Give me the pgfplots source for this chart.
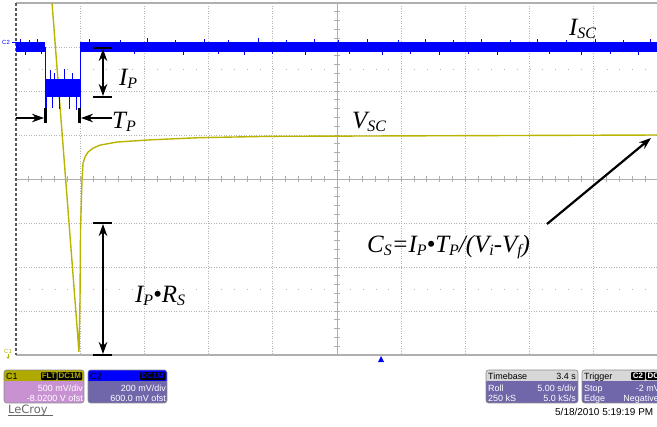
\documentclass[border=0pt]{standalone}
\usepackage{pgfplots}
\pgfplotsset{compat=1.18}
\usetikzlibrary{arrows.meta}
\usepackage{fontspec}
\setmainfont{Liberation Serif}
\newfontfamily\arial{Liberation Sans}
\newfontfamily\dejavu{DejaVu Sans}
\definecolor{trY}{RGB}{185,180,0}
\definecolor{trB}{RGB}{0,0,255}
\definecolor{gridc}{RGB}{180,180,180}
\definecolor{cenc}{RGB}{175,175,175}
\definecolor{cOneH}{RGB}{176,170,0}
\definecolor{cOneB}{RGB}{200,146,210}
\definecolor{cTwoB}{RGB}{112,102,170}
\definecolor{tbH}{RGB}{215,215,215}
\newcommand{\annfont}{\fontsize{25}{25}\selectfont\itshape}
\newcommand{\subx}[1]{\raisebox{-3bp}{\fontsize{16}{16}\selectfont\itshape #1}}
\newcommand{\pf}{\arial\fontsize{9}{9}\selectfont}

% blue trace (I_SC), levels in divisions
\pgfplotstableread{
x y
0 2.89
0.456 2.89
0.456 3.11
0 3.11
}\bandA
\pgfplotstableread{
x y
0.456 1.86
0.997 1.86
0.997 2.27
0.456 2.27
}\bandB
\pgfplotstableread{
x y
0.997 2.89
10 2.89
10 3.11
0.997 3.11
}\bandC
% yellow trace (V_SC)
\pgfplotstableread{
x y
0 6.1
0.45 6.1
0.981 -3.93
0.997 -2.75
1.005 -1.16
1.028 -0.02
1.044 0.36
1.075 0.50
1.121 0.61
1.199 0.70
1.308 0.77
1.573 0.84
2.087 0.89
2.866 0.94
3.956 0.97
5.98 0.98
9.98 1.0
10 1.0
}\vsc

\begin{document}
\begin{tikzpicture}
\useasboundingbox (0,0) rectangle (657bp,-427bp);
% ---- graticule (pixel coordinates) ----
\begin{scope}[x=1bp,y=-1bp]
\foreach \i in {1,2,3,4,6,7,8,9,10}
  \draw[gridc, line width=0.8bp, dash pattern=on 1bp off 1.5bp] ({16+\i*64.2},3) -- ({16+\i*64.2},355);
\foreach \j in {1,2,3,5,6,7}
  \draw[gridc, line width=0.8bp, dash pattern=on 1bp off 1.5bp] (16,{3+\j*44}) -- (657,{3+\j*44});
\foreach \yy in {69,289}
  \draw[gridc, line width=1bp, dash pattern=on 1bp off 11.84bp] (16,\yy) -- (657,\yy);
\draw[cenc, line width=1bp] (337,3) -- (337,355);
\draw[cenc, line width=1bp] (16,179) -- (657,179);
\foreach \k in {1,...,39} \draw[cenc, line width=0.8bp] (334,{3+\k*8.8}) -- (340,{3+\k*8.8});
\foreach \k in {1,...,49} \draw[cenc, line width=0.8bp] ({16+\k*12.84},176) -- ({16+\k*12.84},182);
\draw[cenc, line width=1.5bp] (16,3) -- (657,3);
\draw[cenc, line width=1.2bp] (16,355) -- (657,355);
\draw[black!65, line width=1.2bp, dash pattern=on 3bp off 2bp] (16,3) -- (16,355);
\end{scope}

\begin{axis}[at={(16bp,-355bp)}, anchor=south west, scale only axis,
  width=642bp, height=352bp, xmin=0, xmax=10, ymin=-4, ymax=4,
  hide axis, clip=true, unbounded coords=jump]
\addplot[trY, line width=1.4bp] table {\vsc};
\addplot[fill=trB, draw=none] table {\bandA} -- cycle;
\addplot[fill=trB, draw=none] table {\bandB} -- cycle;
\addplot[fill=trB, draw=none] table {\bandC} -- cycle;
\addplot[trB, line width=1bp] coordinates {(0.456,3.0) (0.456,1.41)};
\addplot[trB, line width=1bp] coordinates {(0.997,1.41) (0.997,3.0)};
\addplot[trB, line width=0.7bp] coordinates {
(0.07,3.0)(0.07,3.18)(0.07,nan)
(0.21,3.0)(0.21,3.17)(0.21,nan)
(0.33,3.0)(0.33,3.19)(0.33,nan)
(1.15,3.0)(1.15,3.18)(1.15,nan)
(1.62,3.0)(1.62,3.17)(1.62,nan)
(2.05,3.0)(2.05,3.2)(2.05,nan)
(2.48,3.0)(2.48,3.16)(2.48,nan)
(2.93,3.0)(2.93,3.19)(2.93,nan)
(3.3,3.0)(3.3,3.17)(3.3,nan)
(3.77,3.0)(3.77,3.2)(3.77,nan)
(4.21,3.0)(4.21,3.16)(4.21,nan)
(4.64,3.0)(4.64,3.18)(4.64,nan)
(5.02,3.0)(5.02,3.17)(5.02,nan)
(5.48,3.0)(5.48,3.19)(5.48,nan)
(5.95,3.0)(5.95,3.16)(5.95,nan)
(6.38,3.0)(6.38,3.18)(6.38,nan)
(6.82,3.0)(6.82,3.17)(6.82,nan)
(7.25,3.0)(7.25,3.19)(7.25,nan)
(7.7,3.0)(7.7,3.16)(7.7,nan)
(8.12,3.0)(8.12,3.18)(8.12,nan)
(8.58,3.0)(8.58,3.17)(8.58,nan)
(9.03,3.0)(9.03,3.19)(9.03,nan)
(9.46,3.0)(9.46,3.16)(9.46,nan)
(9.88,3.0)(9.88,3.18)(9.88,nan)
(0.15,3.0)(0.15,2.82)(0.15,nan)
(0.4,3.0)(0.4,2.83)(0.4,nan)
(1.35,3.0)(1.35,2.82)(1.35,nan)
(1.85,3.0)(1.85,2.84)(1.85,nan)
(2.6,3.0)(2.6,2.82)(2.6,nan)
(3.15,3.0)(3.15,2.83)(3.15,nan)
(3.55,3.0)(3.55,2.82)(3.55,nan)
(4.0,3.0)(4.0,2.84)(4.0,nan)
(4.5,3.0)(4.5,2.82)(4.5,nan)
(5.2,3.0)(5.2,2.83)(5.2,nan)
(5.7,3.0)(5.7,2.82)(5.7,nan)
(6.15,3.0)(6.15,2.84)(6.15,nan)
(6.6,3.0)(6.6,2.82)(6.6,nan)
(7.05,3.0)(7.05,2.83)(7.05,nan)
(7.5,3.0)(7.5,2.82)(7.5,nan)
(8.3,3.0)(8.3,2.84)(8.3,nan)
(8.8,3.0)(8.8,2.82)(8.8,nan)
(9.25,3.0)(9.25,2.83)(9.25,nan)
(9.7,3.0)(9.7,2.82)(9.7,nan)
(0.53,2.1)(0.53,2.48)(0.53,nan)
(0.6,2.1)(0.6,2.42)(0.6,nan)
(0.75,2.1)(0.75,2.5)(0.75,nan)
(0.88,2.1)(0.88,2.4)(0.88,nan)
(0.47,2.0)(0.47,1.55)(0.47,nan)
(0.56,2.0)(0.56,1.62)(0.56,nan)
(0.68,2.0)(0.68,1.58)(0.68,nan)
(0.83,2.0)(0.83,1.6)(0.83,nan)
(0.94,2.0)(0.94,1.56)
};
\end{axis}

% ---- annotations and panels (pixel coordinates) ----
\begin{scope}[x=1bp,y=-1bp]
\begin{scope}[line width=2.2bp, >={Stealth[length=12bp,width=8.5bp]}]
\draw[<->] (103,49) -- (103,96);
\draw (93,48) -- (112,48);
\draw (93,97) -- (112,97);
\draw[->] (16,118) -- (44,118);
\draw (45.5,108) -- (45.5,123);
\draw (79.5,108) -- (79.5,123);
\draw[->] (112,118) -- (81,118);
\draw[<->] (103,224) -- (103,354);
\draw (93,223) -- (112,223);
\draw (93,355) -- (112,355);
\draw[->] (547,224) -- (651,138);
\end{scope}
\node[anchor=base west, inner sep=0] at (569,35) {\annfont I\subx{SC}};
\node[anchor=base west, inner sep=0] at (119,85) {\annfont I\subx{P}};
\node[anchor=base west, inner sep=0] at (112,128) {\annfont T\subx{P}};
\node[anchor=base west, inner sep=0] at (352,128) {\annfont V\subx{SC}};
\node[anchor=base west, inner sep=0] at (367,252) {\annfont C\subx{S}=I\subx{P}•T\subx{P}/(V\subx{i}-V\subx{f})};
\node[anchor=base west, inner sep=0] at (135,302) {\annfont I\subx{P}•R\subx{S}};

% channel markers
\node[anchor=base west, inner sep=0, text=trB] at (2,44) {\arial\fontsize{6}{6}\selectfont C2};
\draw[trB, line width=0.8bp] (12,42) -- (16,42);
\node[anchor=base west, inner sep=0, text=trY] at (4,353) {\arial\fontsize{6}{6}\selectfont C1};
\draw[trY, line width=0.8bp, -{Stealth[length=2.5bp,width=3bp]}] (8,354) -- (8,359);
\fill[trB] (378,362) -- (384,362) -- (381,356) -- cycle;

% C1 panel
\begin{scope}
\clip[rounded corners=2.5bp] (4,370) rectangle (84,403);
\fill[cOneB] (4,370) rectangle (84,403);
\fill[cOneH] (4,370) rectangle (84,381);
\end{scope}
\draw[black!45, line width=0.6bp, rounded corners=2.5bp] (4,370) rectangle (84,403);
\node[anchor=base west, inner sep=0] at (6,379) {\pf C1};
\fill[black, rounded corners=1bp] (41,372) rectangle (56.5,380);
\fill[black, rounded corners=1bp] (57.5,372) rectangle (82,380);
\node[anchor=base, inner sep=0, text=cOneH] at (48.8,378.5) {\arial\fontsize{8}{8}\selectfont\bfseries FLT};
\node[anchor=base, inner sep=0, text=cOneH] at (69.8,378.5) {\arial\fontsize{8}{8}\selectfont\bfseries DC1M};
\node[anchor=base east, inner sep=0, text=white] at (83,391) {\pf 500 mV/div};
\node[anchor=base east, inner sep=0, text=white] at (83,401) {\pf -8.0200 V ofst};
% C2 panel
\begin{scope}
\clip[rounded corners=2.5bp] (88,370) rectangle (167,403);
\fill[cTwoB] (88,370) rectangle (167,403);
\fill[trB] (88,370) rectangle (167,381);
\end{scope}
\draw[black!45, line width=0.6bp, rounded corners=2.5bp] (88,370) rectangle (167,403);
\node[anchor=base west, inner sep=0] at (90,379) {\pf C2};
\fill[black, rounded corners=1bp] (140,372) rectangle (165,380);
\node[anchor=base, inner sep=0, text=trB] at (152.5,378.5) {\arial\fontsize{8}{8}\selectfont\bfseries DC1M};
\node[anchor=base east, inner sep=0, text=white] at (166,391) {\pf 200 mV/div};
\node[anchor=base east, inner sep=0, text=white] at (166,401) {\pf 600.0 mV ofst};
% LeCroy
\node[anchor=base west, inner sep=0, text=black!60] at (8,413) {\dejavu\fontsize{11.5}{11.5}\selectfont LeCroy};
\draw[black!60, line width=0.8bp] (8,415.5) -- (53,415.5);
% Timebase panel
\begin{scope}
\clip[rounded corners=2.5bp] (486,370) rectangle (578,403);
\fill[cTwoB] (486,370) rectangle (578,403);
\fill[tbH] (486,370) rectangle (578,381);
\end{scope}
\draw[black!45, line width=0.6bp, rounded corners=2.5bp] (486,370) rectangle (578,403);
\node[anchor=base west, inner sep=0] at (488,379) {\pf Timebase};
\node[anchor=base east, inner sep=0] at (576,379) {\pf 3.4 s};
\node[anchor=base west, inner sep=0, text=white] at (488,391) {\pf Roll};
\node[anchor=base east, inner sep=0, text=white] at (576,391) {\pf 5.00 s/div};
\node[anchor=base west, inner sep=0, text=white] at (488,401) {\pf 250 kS};
\node[anchor=base east, inner sep=0, text=white] at (576,401) {\pf 5.0 kS/s};
% Trigger panel
\begin{scope}
\clip[rounded corners=2.5bp] (582,370) rectangle (670,403);
\fill[cTwoB] (582,370) rectangle (670,403);
\fill[tbH] (582,370) rectangle (670,381);
\end{scope}
\draw[black!45, line width=0.6bp, rounded corners=2.5bp] (582,370) rectangle (670,403);
\node[anchor=base west, inner sep=0] at (584,379) {\pf Trigger};
\fill[black, rounded corners=1bp] (631,372) rectangle (645,380);
\fill[black, rounded corners=1bp] (646,372) rectangle (664,380);
\node[anchor=base, inner sep=0, text=white] at (638,378.5) {\arial\fontsize{8}{8}\selectfont\bfseries C2};
\node[anchor=base west, inner sep=0, text=white] at (647.5,378.5) {\arial\fontsize{8}{8}\selectfont\bfseries DC};
\node[anchor=base west, inner sep=0, text=white] at (584,391) {\pf Stop};
\node[anchor=base east, inner sep=0, text=white] at (660,391) {\pf -2 mV};
\node[anchor=base west, inner sep=0, text=white] at (584,401) {\pf Edge};
\node[anchor=base east, inner sep=0, text=white] at (659,401) {\pf Negative};
% date
\node[anchor=base west, inner sep=0] at (555,415) {\arial\fontsize{10}{10}\selectfont 5/18/2010 5:19:19 PM};
\end{scope}
\end{tikzpicture}
\end{document}
